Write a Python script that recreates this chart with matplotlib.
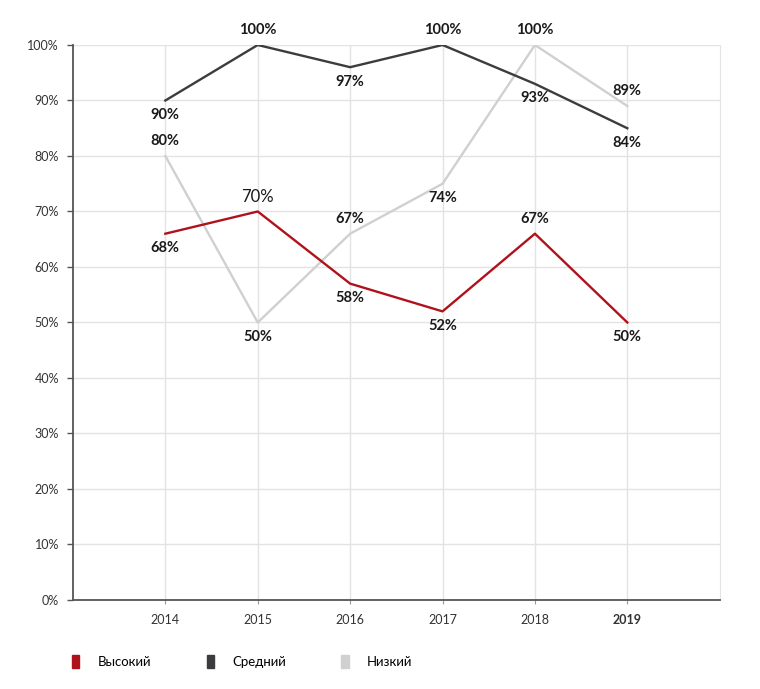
import matplotlib.pyplot as plt
from matplotlib.patches import Patch

years = ['2014', '2015', '2016', '2017', '2018', '2019']
high = [66, 70, 57, 52, 66, 50]
mid = [90, 100, 96, 100, 93, 85]
low = [80, 50, 66, 75, 100, 89]

# text labels as printed on the chart (they don't always match the line)
high_labels = ['68%', '70%', '58%', '52%', '67%', '50%']
mid_labels = ['90%', '100%', '97%', '100%', '93%', '84%']
low_labels = ['80%', '50%', '67%', '74%', '100%', '89%']

# +1 = above the point, -1 = below
high_pos = [-1, 1, -1, -1, 1, -1]
mid_pos = [-1, 1, -1, 1, -1, -1]
low_pos = [1, -1, 1, -1, 1, 1]

names = ['Высокий', 'Средний', 'Низкий']
red = '#b0121c'
dark = '#3c3b3e'
light = '#d0d0d0'

plt.rcParams['font.family'] = ['Lato', 'DejaVu Sans']

fig = plt.figure(figsize=(7.6, 6.89), dpi=100)
ax = fig.add_axes([0.096, 0.1292, 0.851, 0.8055])

x = list(range(1, len(years) + 1))
ax.plot(x, low, color=light, lw=1.7, zorder=3)
ax.plot(x, mid, color=dark, lw=1.7, zorder=4)
ax.plot(x, high, color=red, lw=1.7, zorder=5)

series = [(high, high_labels, high_pos), (mid, mid_labels, mid_pos), (low, low_labels, low_pos)]
for vals, labs, pos in series:
    for xi, v, lab, p in zip(x, vals, labs, pos):
        w = 'bold'
        size = 10.5
        if lab == '70%' and vals is high:
            w = 'normal'
            size = 12
        ax.annotate(lab, (xi, v), xytext=(0, 10.5 * p), textcoords='offset points',
                    ha='center', va='center', fontsize=size, fontweight=w,
                    color='#1a1a1a', zorder=6)

ax.set_xlim(0, 7)
ax.set_ylim(0, 100)
ax.set_xticks(x)
ax.set_xticklabels(years, fontsize=9, color='#333333')
ax.get_xticklabels()[-1].set_fontweight('bold')
ax.set_yticks(range(0, 101, 10))
ax.set_yticklabels([f'{v}%' for v in range(0, 101, 10)], fontsize=9, color='#333333')

ax.grid(True, color='#e3e3e3', lw=1)
ax.set_axisbelow(True)
ax.spines['top'].set_visible(False)
ax.spines['right'].set_color('#e3e3e3')
ax.spines['left'].set_color('#555555')
ax.spines['bottom'].set_color('#555555')
ax.spines['left'].set_linewidth(1.3)
ax.spines['bottom'].set_linewidth(1.3)
ax.tick_params(axis='y', length=4, width=1, color='#555555', pad=6)
ax.tick_params(axis='x', length=3, width=0.8, color='#999999', pad=7)

handles = [Patch(color=c) for c in [red, dark, light]]
fig.legend(handles, names, loc='center left', bbox_to_anchor=(0.079, 0.04), ncol=3,
           frameon=False, fontsize=9.5, handlelength=0.55, handleheight=1.2,
           handletextpad=1.4, columnspacing=4.2)

fig.savefig('out.png', dpi=100)
